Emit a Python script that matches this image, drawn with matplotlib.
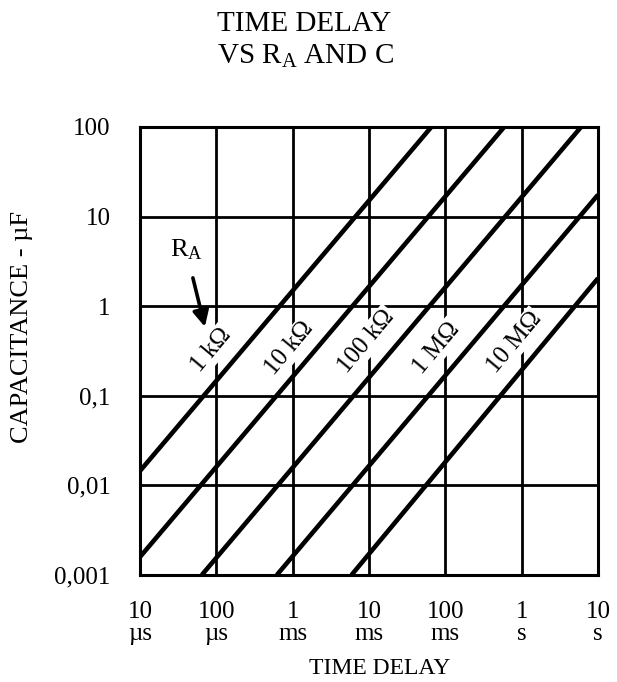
import matplotlib
matplotlib.use("Agg")
from matplotlib import pyplot as plt

plt.rcParams['font.family'] = ['Liberation Serif', 'DejaVu Serif']
plt.rcParams['mathtext.fontset'] = 'custom'
plt.rcParams['mathtext.rm'] = 'Liberation Serif'

# time delay axis (s) and capacitance axis (uF)
x_ticks = [1e-5, 1e-4, 1e-3, 1e-2, 1e-1, 1, 10]
x_labels = ["10\nµs", "100\nµs", "1\nms", "10\nms", "100\nms", "1\ns", "10\ns"]
y_ticks = [1e-3, 1e-2, 1e-1, 1, 10, 100]
y_labels = ["0,001", "0,01", "0,1", "1", "10", "100"]

# R_A lines, read where each one enters and leaves the grid
resistances = ["1 kΩ", "10 kΩ", "100 kΩ", "1 MΩ", "10 MΩ"]
t_start = [1e-5, 1e-5, 6.45e-5, 6.2e-4, 5.9e-3]
c_start = [0.0145, 0.00159, 0.001, 0.001, 0.001]
t_end = [0.0656, 0.59, 6.0, 10, 10]
c_end = [100, 100, 100, 17.5, 2.05]

# label anchors (time, capacitance)
label_t = [8.5e-5, 9.1e-4, 9.3e-3, 0.076, 0.80]
label_c = [0.32, 0.34, 0.40, 0.34, 0.39]

fig = plt.figure(figsize=(6.17, 6.82), dpi=100)
ax = fig.add_axes([0.2269, 0.1569, 0.7423, 0.6569])
ax.set_xscale("log")
ax.set_yscale("log")
ax.set_xlim(1e-5, 10)
ax.set_ylim(1e-3, 100)

ax.set_xticks(x_ticks)
ax.set_xticklabels(x_labels, fontsize=18, linespacing=1.0)
ax.set_yticks(y_ticks)
ax.set_yticklabels(y_labels, fontsize=18)
ax.minorticks_off()
ax.tick_params(axis="x", length=0, pad=19)
ax.tick_params(axis="y", length=0, pad=21)
ax.grid(True, color="black", linewidth=2.0, zorder=1)
ax.set_axisbelow(True)
for sp in ax.spines.values():
    sp.set_linewidth(2.2)
    sp.set_zorder(5)

for i, name in enumerate(resistances):
    ax.plot([t_start[i], t_end[i]], [c_start[i], c_end[i]], color="black",
            linewidth=3.3, solid_capstyle="butt", zorder=4)
    ax.text(label_t[i], label_c[i], name, rotation=50, fontsize=18,
            ha="center", va="center", rotation_mode="anchor", zorder=3,
            bbox=dict(facecolor="white", edgecolor="none", pad=1.5))

ax.text(4.1e-5, 4.26, r"$\mathrm{R_A}$", fontsize=19, ha="center", va="center",
        zorder=3, bbox=dict(facecolor="white", edgecolor="none", pad=8))
ax.annotate("", xy=(7.08e-5, 0.589), xytext=(4.93e-5, 2.07),
            arrowprops=dict(arrowstyle="-|>", color="black", lw=2.6,
                            mutation_scale=24, shrinkA=0, shrinkB=0),
            zorder=4)

fig.text(0.493, 1 - 24 / 682, "TIME DELAY", fontsize=21, ha="center", va="center")
fig.text(0.496, 1 - 56 / 682, r"VS $\mathrm{R_A}$ AND C", fontsize=21,
         ha="center", va="center")
fig.text(380 / 617, 1 - 668 / 682, "TIME DELAY", fontsize=17, ha="center", va="center")
fig.text(22 / 617, 1 - 327 / 682, "CAPACITANCE - µF", fontsize=19, rotation=90,
         ha="center", va="center")

fig.savefig("out.png", dpi=100)
